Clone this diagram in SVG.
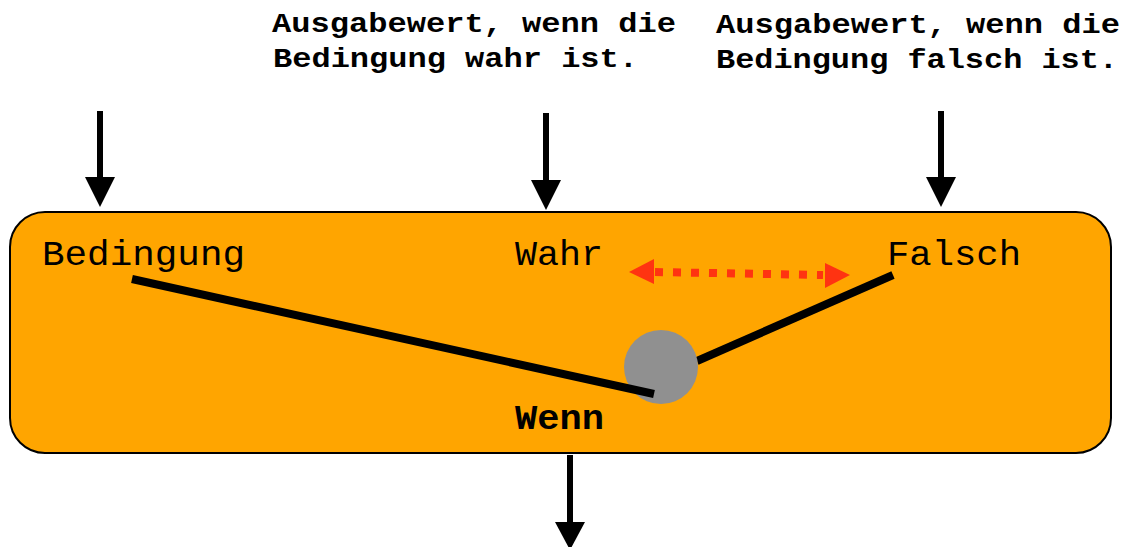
<svg xmlns="http://www.w3.org/2000/svg" width="1122" height="547" viewBox="0 0 1122 547">
  <style>
    .note { font-family: "Liberation Mono", "DejaVu Sans Mono", monospace; font-weight: bold; font-size: 27px; fill: #000; }
    .port { font-family: "Liberation Mono", "DejaVu Sans Mono", monospace; font-size: 35px; fill: #000; }
    .title { font-family: "Liberation Mono", "DejaVu Sans Mono", monospace; font-weight: bold; font-size: 35px; fill: #000; }
    .shaft { stroke: #000; stroke-width: 6; fill: none; }
    .head { fill: #000; }
    .lever { stroke: #000; stroke-width: 8; fill: none; }
    .toggle { stroke: #FF3311; stroke-width: 8; stroke-dasharray: 8 10; fill: none; }
    .toggle-head { fill: #FF3311; }
  </style>

  <!-- labels above the inputs -->
  <g id="note-true">
    <text class="note" x="272" y="32" textLength="404" lengthAdjust="spacingAndGlyphs">Ausgabewert, wenn die</text>
    <text class="note" x="273" y="67" textLength="365" lengthAdjust="spacingAndGlyphs">Bedingung wahr ist.</text>
  </g>
  <g id="note-false">
    <text class="note" x="716" y="33" textLength="404" lengthAdjust="spacingAndGlyphs">Ausgabewert, wenn die</text>
    <text class="note" x="716" y="68" textLength="402" lengthAdjust="spacingAndGlyphs">Bedingung falsch ist.</text>
  </g>

  <!-- the switch block -->
  <g id="wenn">
    <rect x="10" y="212" width="1101" height="241" rx="35" ry="35" fill="#FFA500" stroke="#000" stroke-width="2"/>
    <text class="port" x="42" y="265" textLength="203" lengthAdjust="spacingAndGlyphs">Bedingung</text>
    <text class="port" x="515" y="265" textLength="88" lengthAdjust="spacingAndGlyphs">Wahr</text>
    <text class="port" x="887" y="265" textLength="134" lengthAdjust="spacingAndGlyphs">Falsch</text>
    <text class="title" x="515" y="429" textLength="89" lengthAdjust="spacingAndGlyphs">Wenn</text>

    <!-- switch contacts and pivot -->
    <line class="lever" x1="697" y1="361" x2="893" y2="275"/>
    <circle cx="661" cy="367" r="37" fill="#909090"/>
    <line class="lever" x1="132" y1="279" x2="654" y2="394"/>

    <!-- toggle between the two inputs -->
    <line class="toggle" x1="655" y1="272" x2="823" y2="275"/>
    <polygon class="toggle-head" points="629,272 654,259 654,284"/>
    <polygon class="toggle-head" points="850,275 825,263 825,288"/>
  </g>

  <!-- connectors -->
  <g id="connectors">
    <line class="shaft" x1="100" y1="111" x2="100" y2="180"/>
    <polygon class="head" points="85,177 115,177 100,207"/>
    <line class="shaft" x1="546" y1="113" x2="546" y2="183"/>
    <polygon class="head" points="531,180 561,180 546,210"/>
    <line class="shaft" x1="941" y1="111" x2="941" y2="180"/>
    <polygon class="head" points="926,177 956,177 941,207"/>
    <line class="shaft" x1="570" y1="455" x2="570" y2="525"/>
    <polygon class="head" points="555,522 585,522 570,550"/>
  </g>
</svg>
